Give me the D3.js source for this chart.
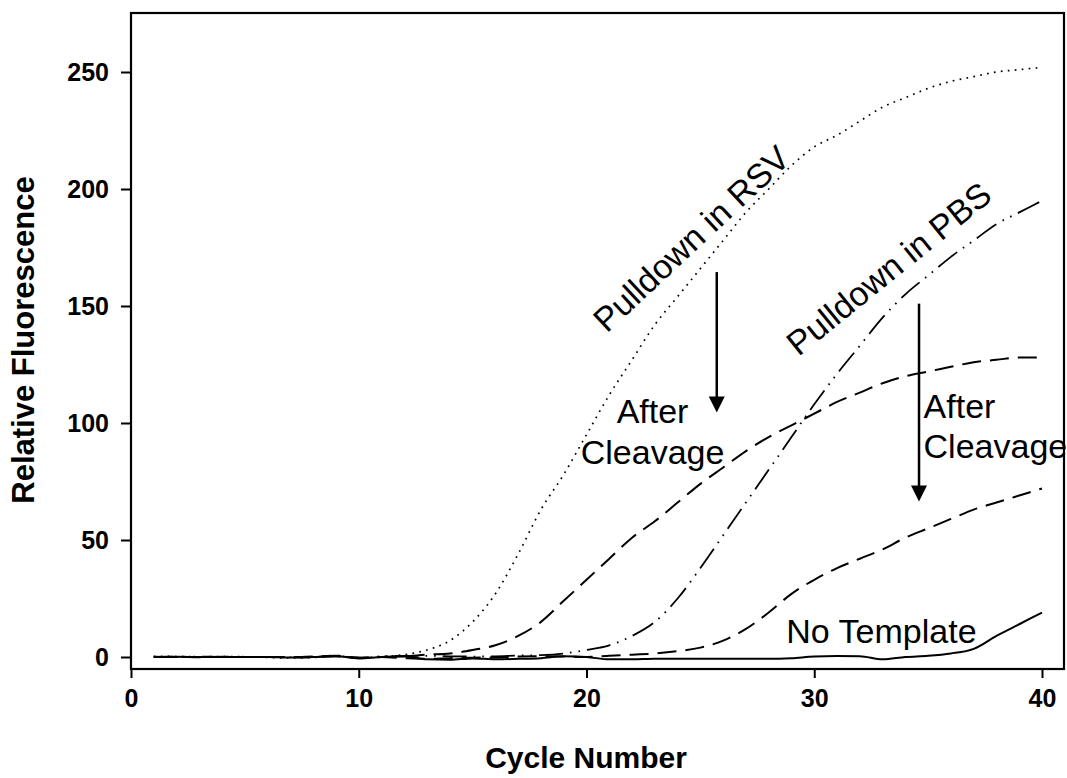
<!DOCTYPE html>
<html>
<head>
<meta charset="utf-8">
<script src="https://cdn.jsdelivr.net/npm/d3@7"></script>
<style>
  html, body { margin: 0; padding: 0; background: #fff; }
  svg { display: block; font-family: "Liberation Sans", Arial, sans-serif; }
</style>
</head>
<body>
<svg id="chart" width="1067" height="778"></svg>
<script>
// ---- data ----
const cycles = d3.range(1, 41);
const rsv = [0.3,0.2,0.1,0.2,0.1,-0.2,-0.4,-0.2,0.4,-0.3,0.2,1,3,7,15,27,44,63,78,95,112,127,142,154,166,178,190,200,210,218,223,229,235,239,243,246,248,250,251,252];
const rsvCleaved = [0,0.1,-0.1,0.1,0,0,-0.1,0.2,0.5,-0.3,0,0.3,1,1.5,3,5,9,15,24,33,42,51,58,66,74,81,88,94,99,104,109,113,117,120,122,124,126,127,128,128];
const pbs = [0.2,0,0.2,0,0.1,0,-0.2,0,0.6,-0.5,0.3,0.5,0.5,0.3,0.2,0.3,0.6,0.8,1.5,3,5,9,15,25,38,52,66,80,94,108,121,133,145,155,163,171,178,185,190,195];
const pbsCleaved = [0,0,0,0,0,0,0,0,0.3,-0.3,0,-0.5,-0.8,-0.5,-0.3,-0.2,0.2,0.3,0.2,0,0.5,1,1.5,2.5,4,7,12,19,27,33,38,42,46,51,55,59,63,66,69,72];
const noTemplate = [0,0.1,0,0,0,0,-0.2,0,0.3,-0.6,0,0.2,-1,-1.2,-0.6,-1,-0.8,-0.5,0.3,0,-1,-1,-0.8,-0.8,-0.8,-0.8,-0.8,-0.8,-0.5,0.2,0.4,0.3,-1,0,0.5,1.5,3.5,9,14,19];

const xTicks = [0, 10, 20, 30, 40];
const yTicks = [0, 50, 100, 150, 200, 250];
const xTitle = "Cycle Number";
const yTitle = "Relative Fluorescence";

const seriesList = [
  {name: "Pulldown in RSV", values: rsv, dash: "1.7,5.3", width: 1.7},
  {name: "RSV after cleavage", values: rsvCleaved, dash: "19,9", width: 2},
  {name: "Pulldown in PBS", values: pbs, dash: "24,7,1.6,7,1.6,7", width: 1.8},
  {name: "PBS after cleavage", values: pbsCleaved, dash: "19,9", width: 2},
  {name: "No Template", values: noTemplate, dash: null, width: 2}
];

// annotations, in data coordinates
const labels = [
  {text: "Pulldown in RSV", x: 24.95, y: 175, rotate: -43},
  {text: "Pulldown in PBS", x: 33.6, y: 162, rotate: -39},
  {text: "After", x: 22.9, y: 100, anchor: "middle"},
  {text: "Cleavage", x: 22.9, y: 82.5, anchor: "middle"},
  {text: "After", x: 34.8, y: 102, anchor: "start"},
  {text: "Cleavage", x: 34.8, y: 85, anchor: "start"},
  {text: "No Template", x: 32.95, y: 6, anchor: "middle"}
];
const arrows = [
  {x: 25.72, y1: 164.5, y2: 104.5},
  {x: 34.6, y1: 151, y2: 66.5}
];

// ---- layout ----
const svg = d3.select("#chart");
const frameL = 131, frameR = 1064, frameT = 13, frameB = 669;
const x = d3.scaleLinear().domain([0, 40]).range([131, 1042]);
const y = d3.scaleLinear().domain([0, 250]).range([657, 72]);

// axes
const xAxis = d3.axisBottom(x).tickValues(xTicks).tickSize(9).tickPadding(11).tickSizeOuter(0);
const yAxis = d3.axisLeft(y).tickValues(yTicks).tickSize(10).tickPadding(12).tickSizeOuter(0);

const gx = svg.append("g").attr("transform", `translate(0,${frameB})`).call(xAxis);
gx.select(".domain").remove();
gx.selectAll(".tick line").attr("stroke", "#000").attr("stroke-width", 2);
gx.selectAll(".tick text").attr("font-size", 25).attr("font-weight", "bold").attr("fill", "#000")
  .attr("font-family", "Liberation Sans, Arial, sans-serif");

const gy = svg.append("g").attr("transform", `translate(${frameL},0)`).call(yAxis);
gy.select(".domain").remove();
gy.selectAll(".tick line").attr("stroke", "#000").attr("stroke-width", 2);
gy.selectAll(".tick text").attr("font-size", 25).attr("font-weight", "bold").attr("fill", "#000")
  .attr("font-family", "Liberation Sans, Arial, sans-serif");

// frame
svg.append("rect").attr("x", frameL).attr("y", frameT)
  .attr("width", frameR - frameL).attr("height", frameB - frameT)
  .attr("fill", "none").attr("stroke", "#000").attr("stroke-width", 2.2);

// lines
const line = d3.line().x((d, i) => x(cycles[i])).y(d => y(d)).curve(d3.curveMonotoneX);
svg.append("g").selectAll("path").data(seriesList).join("path")
  .attr("d", s => line(s.values))
  .attr("fill", "none")
  .attr("stroke", "#000")
  .attr("stroke-width", s => s.width)
  .attr("stroke-linecap", "butt")
  .attr("stroke-dasharray", s => s.dash);

// arrows
const ga = svg.append("g");
arrows.forEach(a => {
  const ax = x(a.x), y1 = y(a.y1), y2 = y(a.y2);
  ga.append("line").attr("x1", ax).attr("x2", ax).attr("y1", y1).attr("y2", y2 - 12)
    .attr("stroke", "#000").attr("stroke-width", 2.5);
  ga.append("path").attr("d", `M${ax - 8},${y2 - 16}L${ax + 8},${y2 - 16}L${ax},${y2}Z`).attr("fill", "#000");
});

// text labels
const gl = svg.append("g");
labels.forEach(l => {
  const px = x(l.x), py = y(l.y);
  const t = gl.append("text").text(l.text)
    .attr("font-size", 34).attr("fill", "#000")
    .attr("text-anchor", l.anchor || "middle");
  if (l.rotate) t.attr("transform", `translate(${px},${py}) rotate(${l.rotate})`);
  else t.attr("x", px).attr("y", py);
});

// axis titles
svg.append("text").text(xTitle).attr("x", 586).attr("y", 768)
  .attr("text-anchor", "middle").attr("font-size", 30).attr("font-weight", "bold");
svg.append("text").text(yTitle).attr("transform", "translate(34,340) rotate(-90)")
  .attr("text-anchor", "middle").attr("font-size", 31).attr("font-weight", "bold");
</script>
</body>
</html>
